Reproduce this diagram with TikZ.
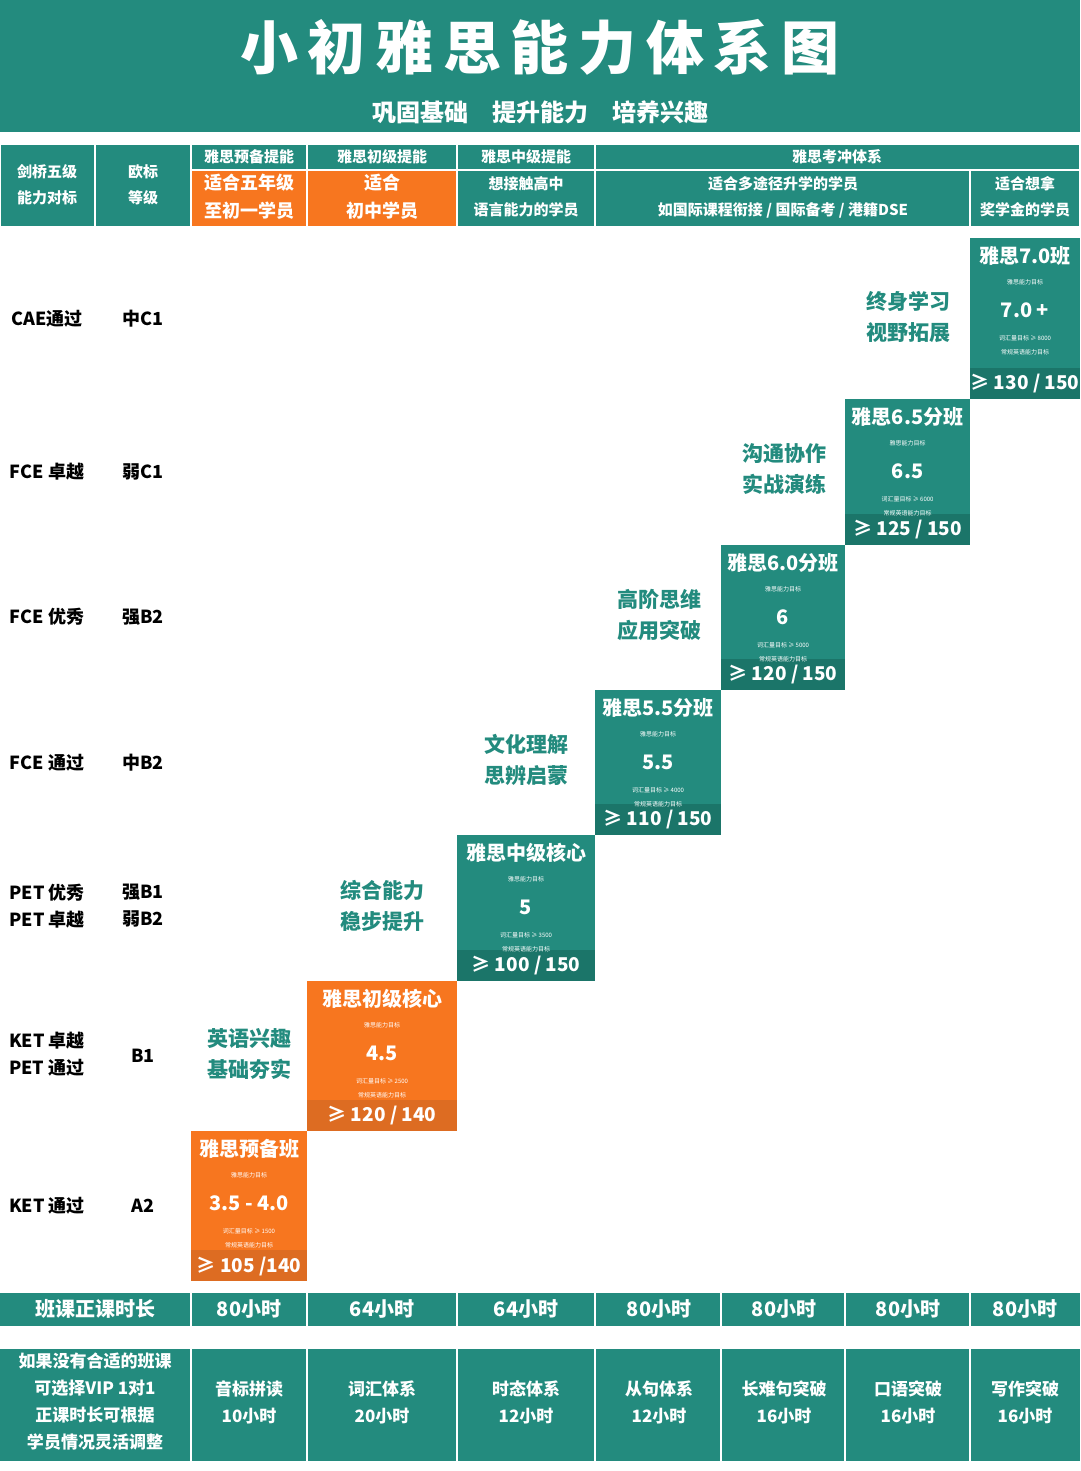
\documentclass[tikz,border=0pt]{standalone}
\usepackage{fontspec}
\setmainfont{Noto Sans CJK SC}
\definecolor{tl}{HTML}{238B7E}
\definecolor{tld}{HTML}{1B7569}
\definecolor{og}{HTML}{F7761F}
\definecolor{ogd}{HTML}{DD6C22}
\begin{document}
\begin{tikzpicture}[x=1pt,y=-1pt,
  wt/.style={text=white,font=\bfseries,align=center,inner sep=0pt},
  cell/.style={draw=white,line width=1.2pt},
  lab/.style={font=\bfseries\fontsize{18}{20}\selectfont,inner sep=0pt,text=black},
  side/.style={text=tl,font=\bfseries\fontsize{21}{31}\selectfont,align=center,inner sep=0pt}]
\useasboundingbox (0,0) rectangle (1080,1471);
\fill[white] (0,0) rectangle (1080,1471);
% title band
\fill[tl] (0,0) rectangle (1080,132);
\node[wt,font=\bfseries\fontsize{58}{60}\selectfont] (title) at (540,47) {小\,初\,雅\,思\,能\,力\,体\,系\,图};
\node[wt,font=\bfseries\fontsize{24}{26}\selectfont] (sub) at (540,112) {巩固基础\quad 提升能力\quad 培养兴趣};
% header table
\fill[tl] (0,144) rectangle (1080,227);
\fill[og] (191,170) rectangle (457,227);
\foreach \a/\b/\c/\d in {0/144/95/227,95/144/191/227,191/144/307/170,307/144/457/170,457/144/595/170,595/144/1080/170,
  191/170/307/227,307/170/457/227,457/170/595/227,595/170/970/227,970/170/1080/227}
  \draw[cell] (\a,\b) rectangle (\c,\d);
\begin{scope}[every node/.style={wt,font=\bfseries\fontsize{15}{26}\selectfont}]
\node (h0) at (47,185) {剑桥五级\\能力对标};
\node (h1) at (143,185) {欧标\\等级};
\node (h2) at (249,157) {雅思预备提能};
\node (h3) at (382,157) {雅思初级提能};
\node (h4) at (526,157) {雅思中级提能};
\node (h5) at (837,157) {雅思考冲体系};
\node[font=\bfseries\fontsize{18}{28}\selectfont] (h6) at (249,197) {适合五年级\\至初一学员};
\node[font=\bfseries\fontsize{18}{28}\selectfont] (h7) at (382,197) {适合\\初中学员};
\node (h8) at (526,197) {想接触高中\\语言能力的学员};
\node (h9) at (783,197) {适合多途径升学的学员\\如国际课程衔接 / 国际备考 / 港籍DSE};
\node (h10) at (1025,197) {适合想拿\\奖学金的学员};
\end{scope}
% left labels
\node[lab] (l1) at (47,319) {CAE通过};  \node[lab] (e1) at (143,319) {中C1};
\node[lab] (l2) at (47,472) {FCE 卓越}; \node[lab] (e2) at (143,472) {弱C1};
\node[lab] (l3) at (47,617) {FCE 优秀}; \node[lab] (e3) at (143,617) {强B2};
\node[lab] (l4) at (47,763) {FCE 通过}; \node[lab] (e4) at (143,763) {中B2};
\node[lab,align=left,font=\bfseries\fontsize{18}{27}\selectfont] (l5) at (47,906) {PET 优秀\\PET 卓越};
\node[lab,align=left,font=\bfseries\fontsize{18}{27}\selectfont] (e5) at (143,906) {强B1\\弱B2};
\node[lab,align=left,font=\bfseries\fontsize{18}{27}\selectfont] (l6) at (47,1054) {KET 卓越\\PET 通过};
\node[lab] (e6) at (143,1056) {B1};
\node[lab] (l7) at (47,1206) {KET 通过}; \node[lab] (e7) at (143,1206) {A2};
% side texts
\node[side] (s1) at (908,317) {终身学习\\视野拓展};
\node[side] (s2) at (784,469) {沟通协作\\实战演练};
\node[side] (s3) at (659,615) {高阶思维\\应用突破};
\node[side] (s4) at (526,760) {文化理解\\思辨启蒙};
\node[side] (s5) at (382,906) {综合能力\\稳步提升};
\node[side] (s6) at (249,1054) {英语兴趣\\基础夯实};
% level boxes
\foreach \i/\xa/\ya/\xb/\yb/\t/\s/\v/\r/\fc/\dc in {
 1/970/238/1080/399/雅思7.0班/7.0 +/8000/{≥ 130 / 150}/tl/tld,
 2/845/399/970/545/雅思6.5分班/6.5/6000/{≥ 125 / 150}/tl/tld,
 3/721/545/845/690/雅思6.0分班/6/5000/{≥ 120 / 150}/tl/tld,
 4/595/690/721/835/雅思5.5分班/5.5/4000/{≥ 110 / 150}/tl/tld,
 5/457/835/595/981/雅思中级核心/5/3500/{≥ 100 / 150}/tl/tld,
 6/307/981/457/1131/雅思初级核心/4.5/2500/{≥ 120 / 140}/og/ogd,
 7/191/1131/307/1281/雅思预备班/3.5 - 4.0/1500/{≥ 105 /140}/og/ogd}{
  \fill[\fc] (\xa,\ya) rectangle (\xb,\yb);
  \fill[\dc] (\xa,\yb-31) rectangle (\xb,\yb);
  \node[wt,font=\bfseries\fontsize{20}{22}\selectfont] (t\i) at ({(\xa+\xb)/2},\ya+18) {\t};
  \node[wt,font=\fontsize{6}{7}\selectfont] (g\i) at ({(\xa+\xb)/2},\ya+44) {雅思能力目标};
  \node[wt,font=\bfseries\fontsize{20}{22}\selectfont] (c\i) at ({(\xa+\xb)/2},\ya+72) {\s};
  \node[wt,font=\fontsize{6}{7}\selectfont] (v\i) at ({(\xa+\xb)/2},\ya+100) {词汇量目标 ≥ \v};
  \node[wt,font=\fontsize{6}{7}\selectfont] (k\i) at ({(\xa+\xb)/2},\ya+114) {常规英语能力目标};
  \node[wt,font=\bfseries\fontsize{19}{21}\selectfont] (r\i) at ({(\xa+\xb)/2},\yb-15) {\r};
}
% hours row
\fill[tl] (0,1293) rectangle (1080,1326);
\fill[tl] (0,1349) rectangle (1080,1461);
\foreach \x in {191,307,457,595,721,845,970}{
  \draw[white,line width=1.5pt] (\x,1293) -- (\x,1326);
  \draw[white,line width=1.5pt] (\x,1349) -- (\x,1461);}
\begin{scope}[every node/.style={wt,font=\bfseries\fontsize{20}{22}\selectfont}]
\node (p0) at (95,1309) {班课正课时长};
\node (p1) at (249,1309) {80小时};
\node (p2) at (382,1309) {64小时};
\node (p3) at (526,1309) {64小时};
\node (p4) at (659,1309) {80小时};
\node (p5) at (784,1309) {80小时};
\node (p6) at (908,1309) {80小时};
\node (p7) at (1025,1309) {80小时};
\end{scope}
\begin{scope}[every node/.style={wt,font=\bfseries\fontsize{17}{27}\selectfont}]
\node (q0) at (95,1402) {如果没有合适的班课\\可选择VIP 1对1\\正课时长可根据\\学员情况灵活调整};
\node (q1) at (249,1402) {音标拼读\\10小时};
\node (q2) at (382,1402) {词汇体系\\20小时};
\node (q3) at (526,1402) {时态体系\\12小时};
\node (q4) at (659,1402) {从句体系\\12小时};
\node (q5) at (784,1402) {长难句突破\\16小时};
\node (q6) at (908,1402) {口语突破\\16小时};
\node (q7) at (1025,1402) {写作突破\\16小时};
\end{scope}
\end{tikzpicture}
\end{document}
